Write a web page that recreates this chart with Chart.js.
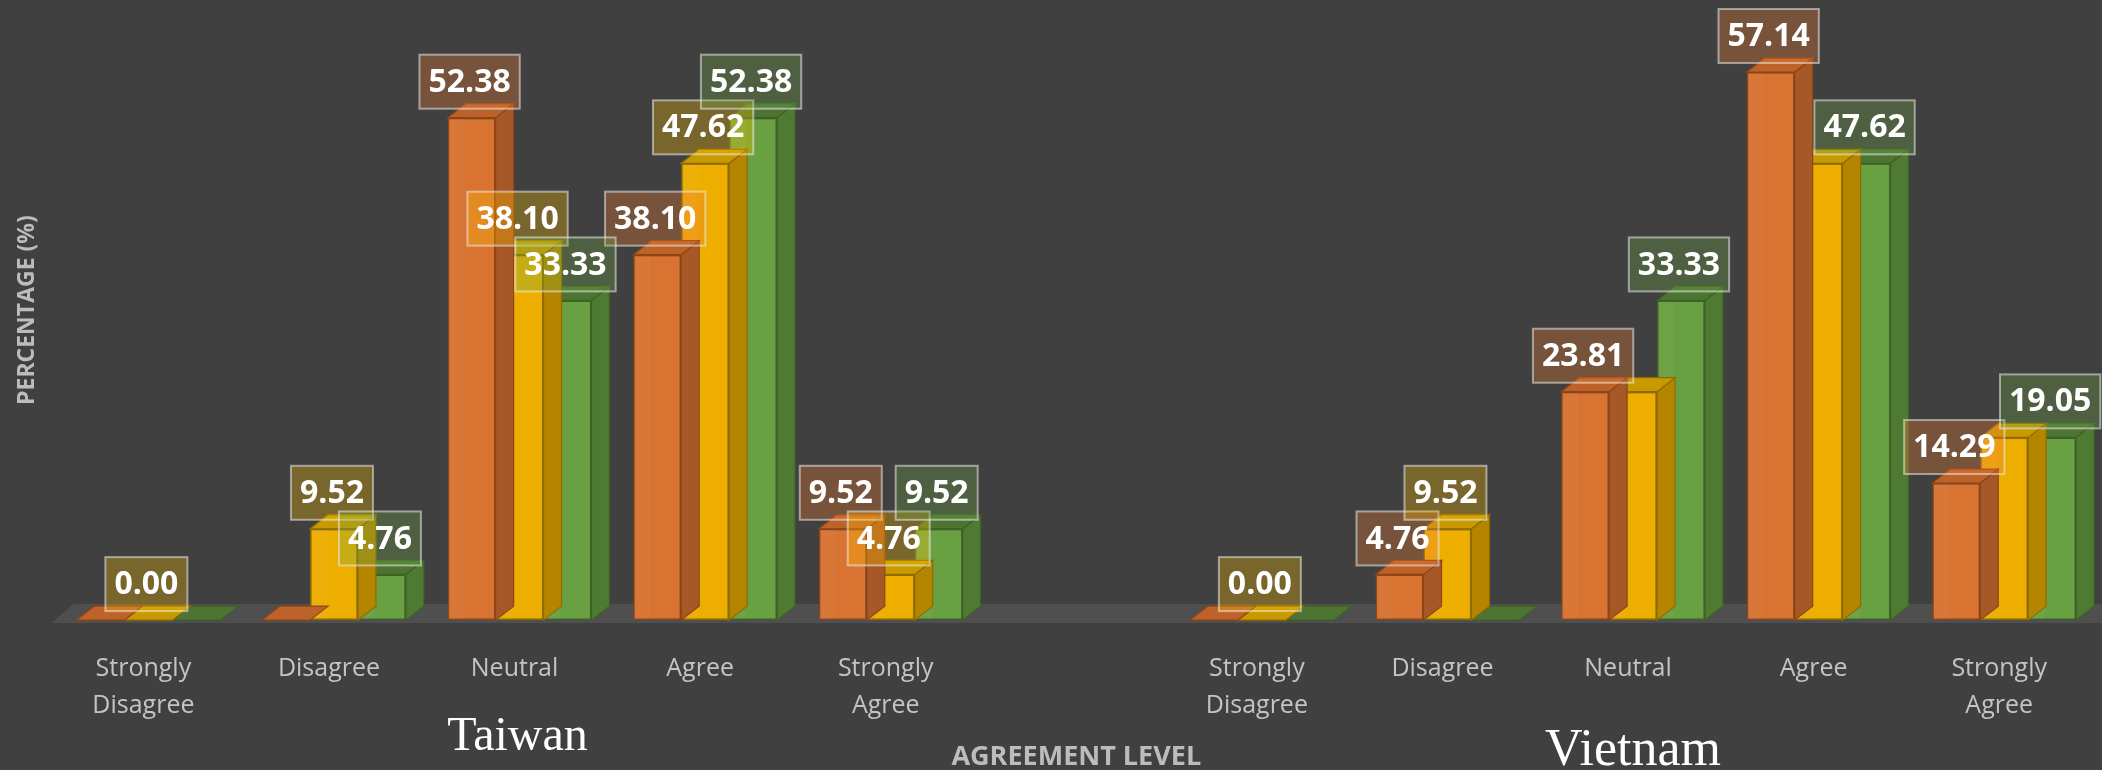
<!DOCTYPE html>
<html>
<head>
<meta charset="utf-8">
<script src="https://cdn.jsdelivr.net/npm/chart.js@4.4.1/dist/chart.umd.min.js"></script>
<style>
  html, body { margin: 0; padding: 0; background: #404040; }
  #wrap { width: 2102px; height: 770px; }
</style>
</head>
<body>
<div id="wrap"><canvas id="c" width="2102" height="770"></canvas></div>
<script>
// ---- data ----
const categories = [
  ['Strongly', 'Disagree'], 'Disagree', 'Neutral', 'Agree', ['Strongly', 'Agree'],
  '',
  ['Strongly', 'Disagree'], 'Disagree', 'Neutral', 'Agree', ['Strongly', 'Agree']
];
const groupNames = ['Taiwan', 'Vietnam'];
const groupCenterIndex = [2, 8];
const seriesNames = ['Series 1', 'Series 2', 'Series 3'];
const series1 = [0, 0, 52.38, 38.10, 9.52, null, 0, 4.76, 23.81, 57.14, 14.29];
const series2 = [0, 9.52, 38.10, 47.62, 4.76, null, 0, 9.52, 23.81, 47.62, 19.05];
const series3 = [0, 4.76, 33.33, 52.38, 9.52, null, 0, 0, 33.33, 47.62, 19.05];
// which data labels are shown in the original
const labels1 = [false, false, true, true, true, false, false, true, true, true, true];
const labels2 = [true, true, true, true, true, false, true, true, false, false, false];
const labels3 = [false, true, true, true, true, false, false, false, true, true, true];
const yMax = 64.65;

// ---- styles ----
const styles = [
  { front: '#d87331', side: '#a65826', top: '#bd632a', border: '#8e4416', label: 'rgba(237,125,49,0.32)' },
  { front: '#edae00', side: '#b58500', top: '#c99a00', border: '#8f6c00', label: 'rgba(255,192,0,0.30)' },
  { front: '#69a042', side: '#4e7a31', top: '#4d7432', border: '#3d6226', label: 'rgba(112,173,71,0.30)' }
];
const DX = 18, DY = 14;
const labelShown = [labels1, labels2, labels3];

const floorPlugin = {
  id: 'floor',
  beforeDatasetsDraw(chart) {
    const ctx = chart.ctx, ca = chart.chartArea;
    const base = chart.scales.y.getPixelForValue(0);
    ctx.save();
    ctx.fillStyle = '#4f4f4f';
    ctx.beginPath();
    ctx.moveTo(ca.left - 4, base + 3);
    ctx.lineTo(ca.left - 4 + 22, base - 16);
    ctx.lineTo(chart.width, base - 16);
    ctx.lineTo(chart.width, base + 3);
    ctx.closePath();
    ctx.fill();
    ctx.restore();
  }
};

const depthPlugin = {
  id: 'depth',
  afterDatasetDraw(chart, args) {
    const i = args.index;
    const st = styles[i];
    const meta = chart.getDatasetMeta(i);
    const ctx = chart.ctx;
    const data = chart.data.datasets[i].data;
    ctx.save();
    ctx.lineWidth = 1.2;
    ctx.strokeStyle = st.border;
    meta.data.forEach((el, j) => {
      if (data[j] === null || data[j] === undefined) return;
      const p = el.getProps(['x', 'y', 'base', 'width'], true);
      const l = p.x - p.width / 2, r = p.x + p.width / 2;
      const top = Math.min(p.y, p.base), bot = p.base;
      if (bot - top > 0.5) {
        ctx.fillStyle = st.side;
        ctx.beginPath();
        ctx.moveTo(r, top);
        ctx.lineTo(r + DX, top - DY);
        ctx.lineTo(r + DX, bot - DY);
        ctx.lineTo(r, bot);
        ctx.closePath();
        ctx.fill(); ctx.stroke();
        ctx.fillStyle = 'rgba(255,255,255,0.035)';
        ctx.fillRect(l + 1, top + 1, p.width * 0.33, bot - top - 2);
      }
      ctx.fillStyle = st.top;
      ctx.beginPath();
      ctx.moveTo(l, top);
      ctx.lineTo(l + DX, top - DY);
      ctx.lineTo(r + DX, top - DY);
      ctx.lineTo(r, top);
      ctx.closePath();
      ctx.fill(); ctx.stroke();
    });
    ctx.restore();
  }
};

const labelPlugin = {
  id: 'boxLabels',
  afterDatasetsDraw(chart) {
    const ctx = chart.ctx;
    ctx.save();
    ctx.font = 'bold 32px "Open Sans"';
    ctx.textAlign = 'center';
    ctx.textBaseline = 'middle';
    chart.data.datasets.forEach((ds, i) => {
      const meta = chart.getDatasetMeta(i);
      meta.data.forEach((el, j) => {
        if (!labelShown[i][j] || ds.data[j] === null) return;
        const p = el.getProps(['x', 'y'], true);
        const txt = ds.data[j].toFixed(2);
        const w = ctx.measureText(txt).width + 18;
        const h = 54;
        const x0 = p.x - w / 2 - 2, y1 = p.y - 9, y0 = y1 - h;
        ctx.fillStyle = styles[i].label;
        ctx.fillRect(x0, y0, w, h);
        ctx.strokeStyle = 'rgba(235,235,235,0.55)';
        ctx.lineWidth = 2;
        ctx.strokeRect(x0, y0, w, h);
        ctx.fillStyle = '#ffffff';
        ctx.fillText(txt, x0 + w / 2, y0 + h / 2 + 1);
      });
    });
    ctx.restore();
  }
};

const groupPlugin = {
  id: 'groups',
  afterDraw(chart) {
    const ctx = chart.ctx, xs = chart.scales.x;
    ctx.save();
    ctx.fillStyle = '#ffffff';
    ctx.textAlign = 'center';
    ctx.textBaseline = 'alphabetic';
    ctx.font = '48px "Liberation Serif"';
    ctx.fillText(groupNames[0], xs.getPixelForValue(groupCenterIndex[0]) - 2, 750);
    ctx.font = '52px "Liberation Serif"';
    ctx.fillText(groupNames[1], xs.getPixelForValue(groupCenterIndex[1]), 765);
    ctx.restore();
  }
};

const mkDs = (label, data, st) => ({
  label, data,
  backgroundColor: st.front,
  borderColor: st.border,
  borderWidth: (c) => (c.raw ? 1.5 : 0),
  borderSkipped: false,
  categoryPercentage: 0.775,
  barPercentage: 1.0
});

new Chart(document.getElementById('c'), {
  type: 'bar',
  data: {
    labels: categories,
    datasets: [
      mkDs(seriesNames[0], series1, styles[0]),
      mkDs(seriesNames[1], series2, styles[1]),
      mkDs(seriesNames[2], series3, styles[2])
    ]
  },
  options: {
    responsive: false,
    devicePixelRatio: 1,
    animation: false,
    layout: { padding: { left: 10, right: 5, top: 0, bottom: -3 } },
    plugins: { legend: { display: false }, tooltip: { enabled: false } },
    scales: {
      x: {
        grid: { display: false, drawTicks: false },
        border: { display: false },
        ticks: {
          color: '#c4c4c4',
          font: { family: 'Open Sans', size: 25, lineHeight: 1.45 },
          padding: 31,
          maxRotation: 0,
          autoSkip: false,
          labelOffset: -5
        },
        title: {
          display: true,
          text: 'AGREEMENT LEVEL',
          color: '#bcbcbc',
          font: { family: 'Open Sans', size: 27, weight: 'bold', lineHeight: 1.2 },
          padding: { top: -13, bottom: -1 }
        }
      },
      y: {
        min: 0, max: yMax,
        grid: { display: false, drawTicks: false },
        border: { display: false },
        ticks: { display: false },
        title: {
          display: true,
          text: 'PERCENTAGE (%)',
          color: '#bcbcbc',
          font: { family: 'Open Sans', size: 23, weight: 'bold', lineHeight: 1.2 },
          padding: { top: 4, bottom: 14 }
        }
      }
    }
  },
  plugins: [floorPlugin, depthPlugin, labelPlugin, groupPlugin]
});
</script>
</body>
</html>
